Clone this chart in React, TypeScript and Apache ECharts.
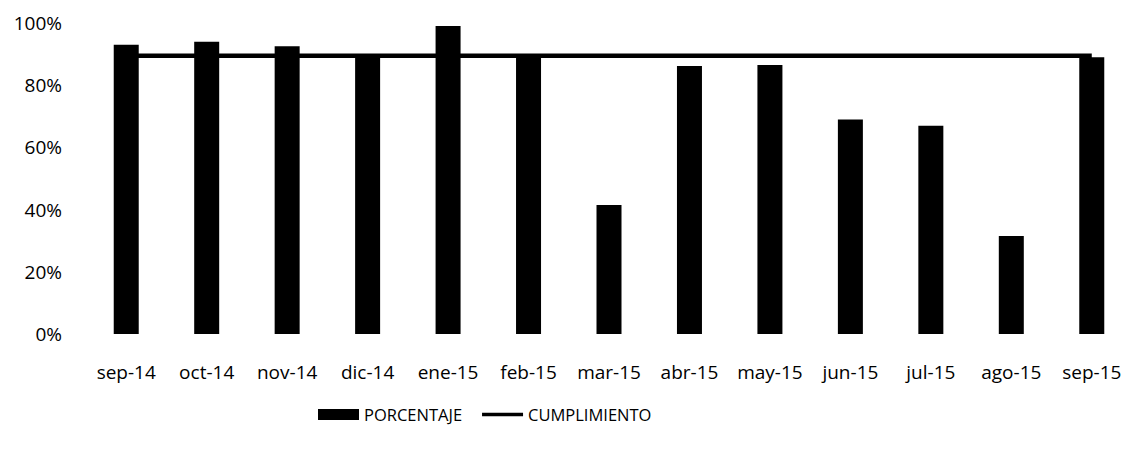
import React, { useEffect, useRef } from "react";
import * as echarts from "echarts";

const categories = ["sep-14", "oct-14", "nov-14", "dic-14", "ene-15", "feb-15", "mar-15", "abr-15", "may-15", "jun-15", "jul-15", "ago-15", "sep-15"];
const porcentaje = [0.93, 0.94, 0.925, 0.89, 0.99, 0.89, 0.415, 0.862, 0.865, 0.69, 0.67, 0.315, 0.89];
const cumplimiento = [0.895, 0.895, 0.895, 0.895, 0.895, 0.895, 0.895, 0.895, 0.895, 0.895, 0.895, 0.895, 0.895];
const yTicks = [0, 0.2, 0.4, 0.6, 0.8, 1];

export default function App() {
  const ref = useRef<HTMLDivElement>(null);
  useEffect(() => {
    if (!ref.current) return;
    const chart = echarts.init(ref.current, null, { renderer: "svg" });
    const font = "'Open Sans', 'Noto Sans', sans-serif";
    chart.setOption({
      animation: false,
      backgroundColor: "#ffffff",
      textStyle: { fontFamily: font, color: "#000" },
      grid: { left: 86, top: 23, width: 1053, height: 311, containLabel: false },
      legend: {
        left: 313,
        top: 401,
        itemWidth: 41,
        itemHeight: 11,
        itemGap: 20,
        textStyle: { fontFamily: font, fontSize: 16.5, color: "#000" },
        data: [
          { name: "PORCENTAJE", icon: "rect" },
          { name: "CUMPLIMIENTO", icon: "path://M0,0 H41 V3.5 H0 Z" },
        ],
      },
      xAxis: {
        type: "category",
        data: categories,
        axisLine: { show: false },
        axisTick: { show: false },
        axisLabel: { fontFamily: font, fontSize: 19, color: "#000", margin: 28, interval: 0 },
      },
      yAxis: {
        type: "value",
        min: yTicks[0],
        max: yTicks[yTicks.length - 1],
        interval: 0.2,
        axisLine: { show: false },
        axisTick: { show: false },
        splitLine: { show: false },
        axisLabel: {
          fontFamily: font,
          fontSize: 19,
          color: "#000",
          margin: 24,
          formatter: (v: number) => Math.round(v * 100) + "%",
        },
      },
      series: [
        {
          name: "PORCENTAJE",
          type: "bar",
          data: porcentaje,
          barWidth: 25,
          itemStyle: { color: "#000" },
        },
        {
          name: "CUMPLIMIENTO",
          type: "line",
          data: cumplimiento,
          symbol: "none",
          lineStyle: { color: "#000", width: 4.5 },
          itemStyle: { color: "#000" },
        },
      ],
    });
    return () => chart.dispose();
  }, []);
  return <div ref={ref} style={{ position: "fixed", left: 0, top: 0, width: 1132, height: 450 }} />;
}
